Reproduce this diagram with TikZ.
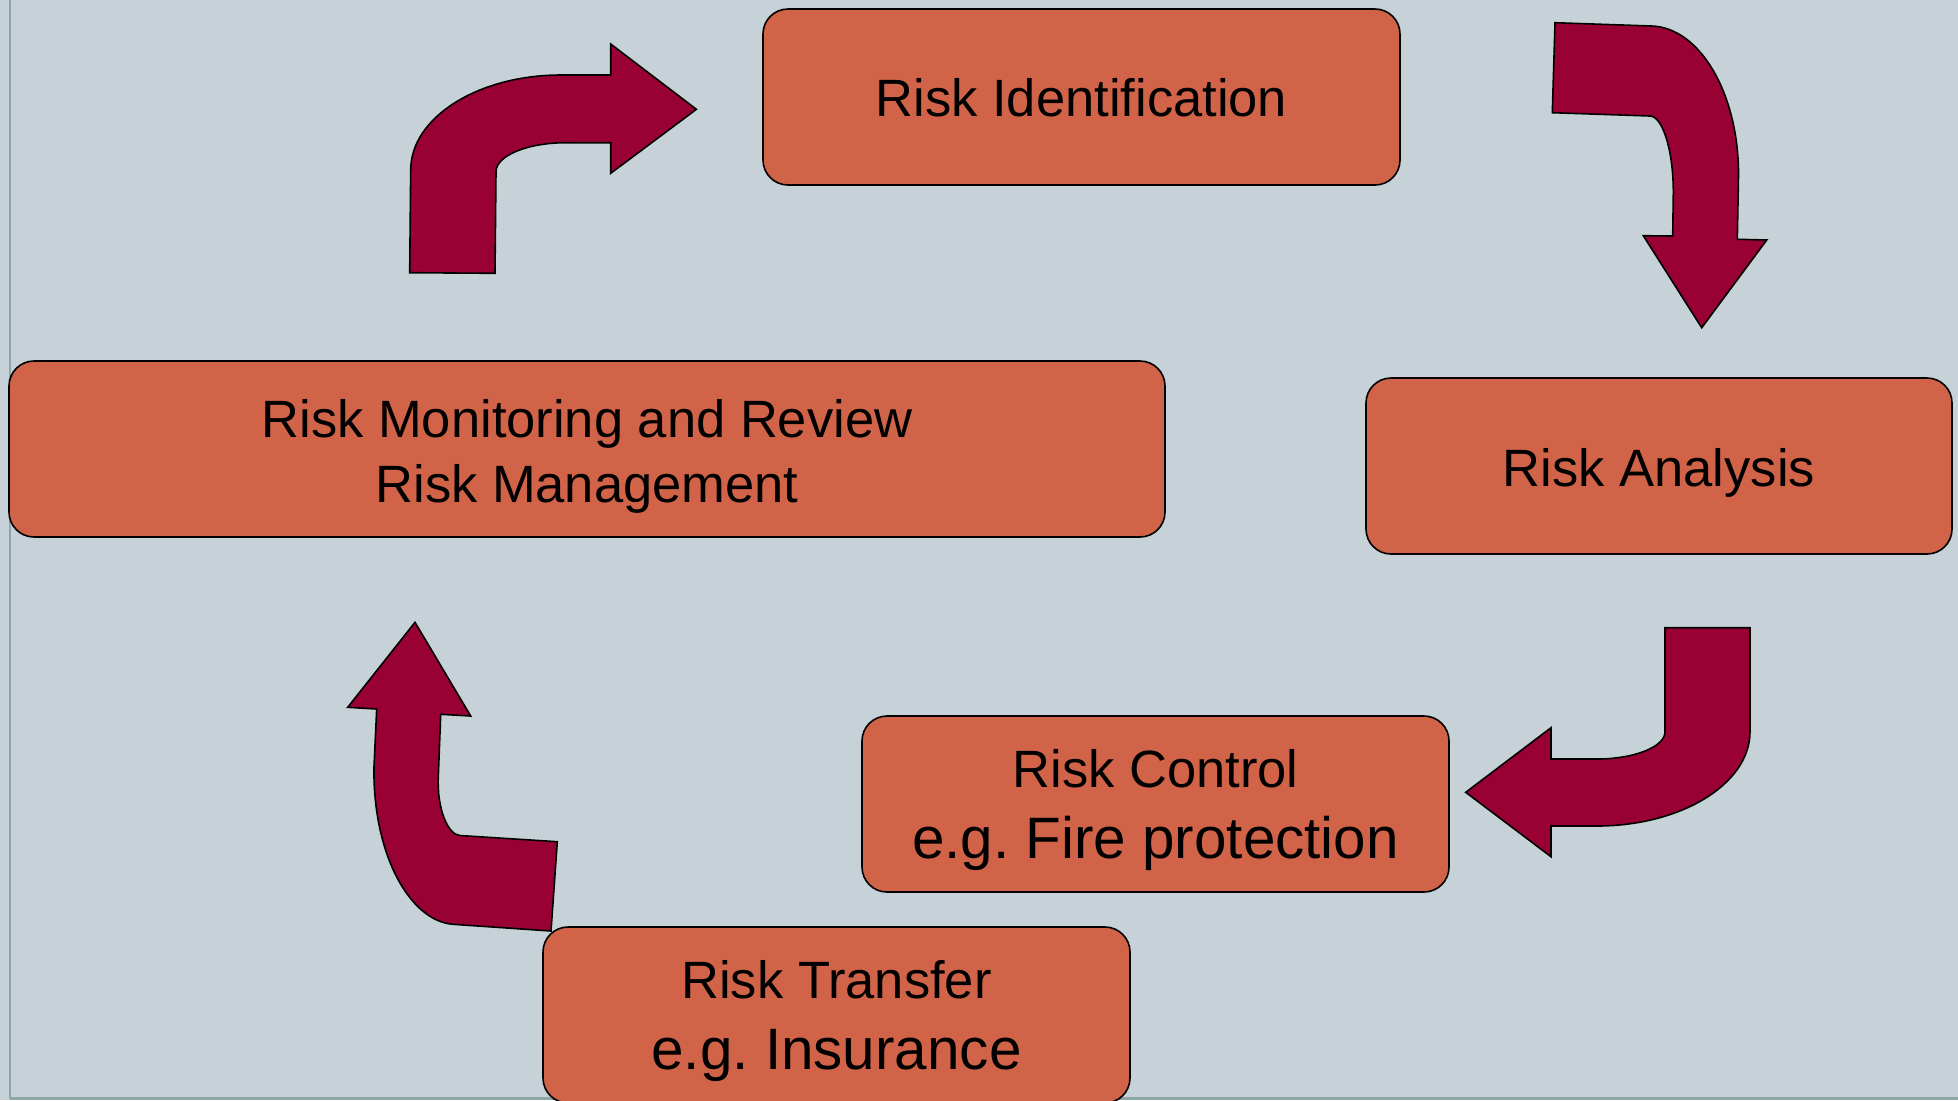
\documentclass[tikz,border=0pt]{standalone}
\usepackage{fontspec}
\setmainfont{Liberation Sans}
\frenchspacing
\definecolor{bgcol}{RGB}{198,210,216}
\definecolor{boxcol}{RGB}{209,99,73}
\definecolor{arrcol}{RGB}{153,0,51}
\definecolor{edgecol}{RGB}{143,166,166}
\tikzset{
  stagebox/.style={draw=black, line width=0.8pt, fill=boxcol, rounded corners=12.5pt, inner sep=0pt},
  stagetext/.style={anchor=base, inner sep=0pt, font=\fontsize{26.25}{32}\selectfont},
  bigtext/.style={anchor=base, inner sep=0pt, font=\fontsize{29.2}{35}\selectfont},
  bentarrow/.style={draw=black, line width=0.8pt, fill=arrcol, line join=miter}
}
\begin{document}
\begin{tikzpicture}[x=0.5pt,y=-0.5pt]
\clip (0,0) rectangle (1958,1100);
\fill[bgcol] (0,0) rectangle (1958,1100);
\draw[edgecol, line width=1pt] (10,-10) -- (10,1098.5);
\draw[edgecol, line width=1.5pt] (10,1098.5) -- (1970,1098.5);

% boxes
\node[stagebox, minimum width=318.5pt, minimum height=88pt] (ri) at (1081.5,97) {};
\node[stagebox, minimum width=293pt, minimum height=88pt] (ra) at (1659,466) {};
\node[stagebox, minimum width=578pt, minimum height=88pt] (rmr) at (587,449) {};
\node[stagebox, minimum width=293.5pt, minimum height=88pt] (rc) at (1155.5,804) {};
\node[stagebox, minimum width=293.5pt, minimum height=88pt] (rt) at (836.5,1015) {};

% texts
\node[stagetext] (ri-t) at (1081.5,116.7) {Risk Identification};
\node[stagetext] (ra-t) at (1659,486.2) {Risk Analysis};
\node[stagetext] (rmr-t1) at (587,437.3) {Risk Monitoring and Review};
\node[stagetext] (rmr-t2) at (587,502.7) {Risk Management};
\node[stagetext] (rc-t1) at (1155.5,787.3) {Risk Control};
\node[bigtext] (rc-t2) at (1155.5,858.3) {e.g. Fire protection};
\node[stagetext] (rt-t1) at (836.5,998.3) {Risk Transfer};
\node[bigtext] (rt-t2) at (836.5,1069.3) {e.g. Insurance};

% arrow: monitoring -> identification
\path[bentarrow] (409.7,272.7) -- (410.7,170) .. controls (410.7,117.5) and (478,75) .. (561,75)
  -- (610.7,75) -- (610.7,44) -- (696.4,109.3) -- (610.7,173.3) -- (610.7,142.7) -- (566,142.7)
  .. controls (527.3,142.7) and (496,155.7) .. (496,171.7) -- (495,273.3) -- cycle;

% arrow: identification -> analysis
\path[bentarrow] (1555,22.7) -- (1651.7,26) .. controls (1699.5,27.5) and (1738.7,93) .. (1738.5,175)
  -- (1737.3,239.3) -- (1766.7,240) -- (1701.7,327.7) -- (1643.3,235.7) -- (1672.7,236)
  -- (1673.3,193.3) .. controls (1673.5,150.8) and (1662.7,116.4) .. (1650,116) -- (1552.3,112.7) -- cycle;

% arrow: analysis -> control
\path[bentarrow] (1665,627.7) -- (1750,627.7) -- (1750,731.7) .. controls (1750,783.8) and (1681.4,826) .. (1596.7,826)
  -- (1551,826) -- (1551,856.7) -- (1465.7,792.3) -- (1551,727.7) -- (1551,759) -- (1596.7,759)
  .. controls (1634.4,759) and (1665,746.8) .. (1665,731.7) -- cycle;

% arrow: transfer -> monitoring
\path[bentarrow] (415,622.3) -- (470.7,716) -- (440.7,714.3) -- (438.3,776.7)
  .. controls (436.8,808.7) and (448,835) .. (460,835.5) -- (557.3,841.7) -- (551,931) -- (453.3,924.3)
  .. controls (409.7,921.3) and (372.5,853.7) .. (374,766.7) -- (376.7,709) -- (347.7,707.3) -- cycle;
\end{tikzpicture}
\end{document}
